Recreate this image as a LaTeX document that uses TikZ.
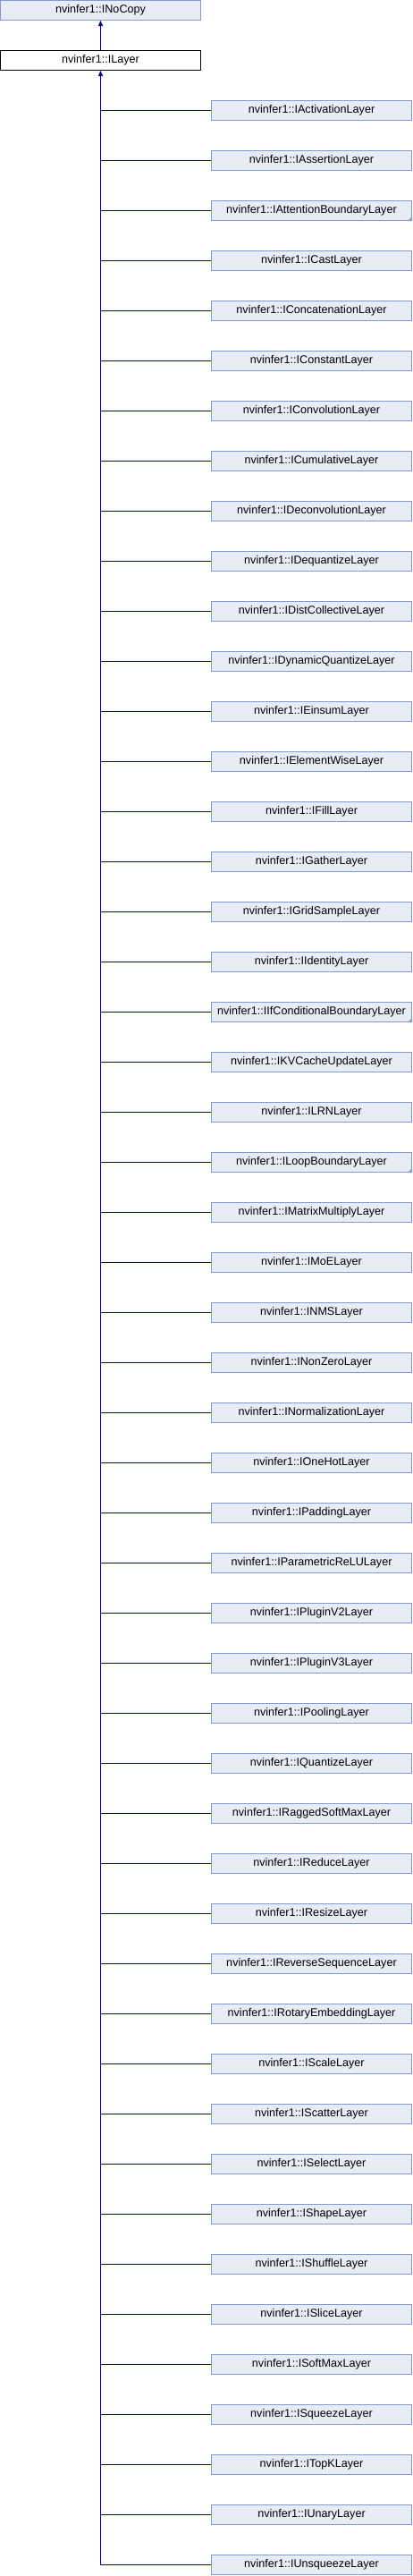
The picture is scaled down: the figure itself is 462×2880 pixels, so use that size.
\documentclass[tikz,border=0pt]{standalone}
\usepackage{fontspec}
\setmainfont{Liberation Sans}
\usetikzlibrary{arrows.meta,positioning}
\definecolor{boxfill}{RGB}{232,236,244}
\definecolor{boxline}{RGB}{132,154,204}
\definecolor{edgeblue}{RGB}{0,0,140}

\begin{document}
\begin{tikzpicture}[x=1pt, y=-1pt,
  cls/.style={draw=boxline, fill=boxfill, line width=1pt, minimum width=224pt, minimum height=22pt,
    inner sep=0pt, font=\fontsize{12.6}{14}\selectfont},
  cur/.style={cls, draw=black, fill=white},
  edge/.style={draw=edgeblue, line width=1.2pt},
  inh/.style={edge, -{Triangle[width=5pt,length=6pt]}},
  more/.style={fill=boxline}]
\useasboundingbox (0,0) rectangle (462,2880);
\node[cls] (nocopy) at (112.5,11.5) {nvinfer1::INoCopy};
\node[cur] (layer) at (112.5,67.5) {nvinfer1::ILayer};
\draw[inh] (layer) -- (nocopy);
% derived classes
\foreach \name [count=\i] in {IActivationLayer, IAssertionLayer, IAttentionBoundaryLayer, ICastLayer,
  IConcatenationLayer, IConstantLayer, IConvolutionLayer, ICumulativeLayer, IDeconvolutionLayer,
  IDequantizeLayer, IDistCollectiveLayer, IDynamicQuantizeLayer, IEinsumLayer, IElementWiseLayer,
  IFillLayer, IGatherLayer, IGridSampleLayer, IIdentityLayer, IIfConditionalBoundaryLayer,
  IKVCacheUpdateLayer, ILRNLayer, ILoopBoundaryLayer, IMatrixMultiplyLayer, IMoELayer, INMSLayer,
  INonZeroLayer, INormalizationLayer, IOneHotLayer, IPaddingLayer, IParametricReLULayer,
  IPluginV2Layer, IPluginV3Layer, IPoolingLayer, IQuantizeLayer, IRaggedSoftMaxLayer, IReduceLayer,
  IResizeLayer, IReverseSequenceLayer, IRotaryEmbeddingLayer, IScaleLayer, IScatterLayer,
  ISelectLayer, IShapeLayer, IShuffleLayer, ISliceLayer, ISoftMaxLayer, ISqueezeLayer, ITopKLayer,
  IUnaryLayer, IUnsqueezeLayer}
{
  \node[cls] (d\i) at (348.5,{123.5+56*(\i-1)}) {nvinfer1::\name};
  \draw[edge] (d\i.west -| layer.south) -- (d\i.west);
}
\draw[inh] (d50.west -| layer.south) -- (layer.south);
% classes with more derived ones
\foreach \k in {3,19,22}
  \fill[more] (d\k.south east) -- ++(-5,0) -- ++(5,-5) -- cycle;
\end{tikzpicture}
\end{document}
